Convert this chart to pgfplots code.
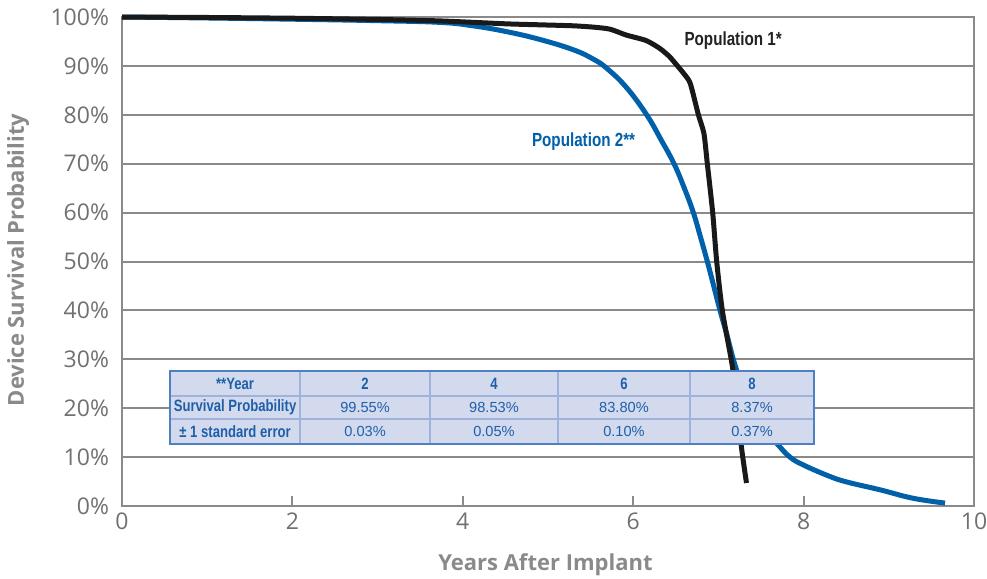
\documentclass[border=0pt]{standalone}
\usepackage{fontspec}
\setmainfont{Open Sans}
\newfontfamily\condfont[FakeStretch=0.8]{Liberation Sans}
\newfontfamily\arialfont{Liberation Sans}
\usepackage{pgfplots}
\pgfplotsset{compat=1.18}
\definecolor{popblue}{HTML}{0060A9}
\definecolor{gridgray}{HTML}{8A8A8A}
\definecolor{ticktext}{HTML}{707070}
\definecolor{labeltext}{HTML}{8A8A8A}
\definecolor{tabfill}{HTML}{D3DAEE}
\definecolor{tabedge}{HTML}{4F80C2}
\definecolor{tabinner}{HTML}{9EB2DC}
\definecolor{tabtext}{HTML}{1E5FA9}
\definecolor{poplabel}{HTML}{222222}

\pgfplotstableread{
x y
0 100
1 99.9
2 99.75
3 99.5
3.73 99.2
4.515 98.6
4.906 98.4
5.297 98.2
5.55 97.9
5.73 97.5
5.92 96.3
6.15 95.2
6.31 93.6
6.42 92
6.51 90.2
6.6 88.3
6.67 86.4
6.765 80
6.83 76.2
6.87 70
6.933 60
6.98 50
7.046 40
7.15 30
7.175 27
7.27 12.1
7.33 4.7
}\popone

\pgfplotstableread{
x y
0 100
1 99.8
2 99.55
3 99.25
3.73 98.9
4.12 98.2
4.515 97.0
4.906 95.4
5.297 93.3
5.53 91.4
5.69 89.5
5.92 85.6
6.158 80
6.33 74.8
6.479 70
6.6 65
6.706 60
6.79 55
6.87 50
6.945 45
7.019 40
7.1 35
7.175 30
7.25 26
7.35 21.5
7.5 16.5
7.69 12.7
7.84 10
8 8.37
8.3 6.1
8.51 4.9
8.9 3.3
9.28 1.6
9.66 0.6
}\poptwo

\begin{document}
\begin{tikzpicture}
\useasboundingbox (0,0) rectangle (493.5pt,289.5pt);
\begin{axis}[
  at={(61pt,36.5pt)}, anchor=south west,
  scale only axis, width=426pt, height=244.5pt,
  xmin=0, xmax=10, ymin=0, ymax=100,
  clip=false,
  axis line style={draw=gridgray, line width=1pt},
  xtick={0,2,4,6,8,10}, xticklabels={0,2,4,6,8,10},
  ytick={0,10,...,100},
  yticklabels={0\%,10\%,20\%,30\%,40\%,50\%,60\%,70\%,80\%,90\%,100\%},
  xtick pos=bottom, ytick pos=left,
  tick align=inside, major tick length=5pt,
  xtick style={draw=gridgray, line width=1pt},
  ytick style={draw=none},
  ymajorgrids, grid style={draw=gridgray, line width=1pt},
  ticklabel style={font=\fontsize{11.5}{13}\selectfont, text=ticktext},
  yticklabel style={xshift=-3pt},
  xticklabel style={yshift=0pt},
  xlabel={Years After Implant},
  ylabel={Device Survival Probability},
  label style={font=\bfseries\fontsize{11}{13}\selectfont, text=labeltext},
  xlabel style={at={(axis description cs:0.497,-0.121)}, anchor=center},
  ylabel style={at={(axis description cs:-0.122,0.503)}, anchor=center, rotate=0},
]
\addplot[popblue, line width=2.5pt, line join=round, smooth, tension=0.7] table[x=x,y=y]{\poptwo};
\addplot[black!90, line width=2.5pt, line join=round, smooth, tension=0.4] table[x=x,y=y]{\popone};

\node[anchor=west, font=\condfont\bfseries\fontsize{9.5}{10}\selectfont, text=poplabel] at (axis cs:6.52,95.1) {Population 1*};
\node[anchor=west, font=\condfont\bfseries\fontsize{9.5}{10}\selectfont, text=popblue] at (axis cs:4.73,74.6) {Population 2**};

% table
\fill[tabfill] (axis cs:0.563,12.7) rectangle (axis cs:8.122,27.6);
\draw[tabinner, line width=0.6pt] (axis cs:0.563,22.5) -- (axis cs:8.122,22.5);
\draw[tabinner, line width=0.6pt] (axis cs:0.563,17.8) -- (axis cs:8.122,17.8);
\draw[tabinner, line width=0.6pt] (axis cs:2.09,12.7) -- (axis cs:2.09,27.6);
\draw[tabinner, line width=0.6pt] (axis cs:3.615,12.7) -- (axis cs:3.615,27.6);
\draw[tabinner, line width=0.6pt] (axis cs:5.117,12.7) -- (axis cs:5.117,27.6);
\draw[tabinner, line width=0.6pt] (axis cs:6.667,12.7) -- (axis cs:6.667,27.6);
\draw[tabedge, line width=0.8pt] (axis cs:0.563,12.7) rectangle (axis cs:8.122,27.6);
\begin{scope}[every node/.style={text=tabtext, anchor=center}]
\node[font=\condfont\bfseries\fontsize{8.2}{9}\selectfont] at (axis cs:1.327,25.05) {**Year};
\node[font=\condfont\bfseries\fontsize{8.2}{9}\selectfont] at (axis cs:2.853,25.05) {2};
\node[font=\condfont\bfseries\fontsize{8.2}{9}\selectfont] at (axis cs:4.366,25.05) {4};
\node[font=\condfont\bfseries\fontsize{8.2}{9}\selectfont] at (axis cs:5.892,25.05) {6};
\node[font=\condfont\bfseries\fontsize{8.2}{9}\selectfont] at (axis cs:7.395,25.05) {8};
\node[font=\condfont\bfseries\fontsize{8.2}{9}\selectfont] at (axis cs:1.327,20.15) {Survival Probability};
\node[font=\arialfont\fontsize{7.3}{9}\selectfont] at (axis cs:2.853,20.15) {99.55\%};
\node[font=\arialfont\fontsize{7.3}{9}\selectfont] at (axis cs:4.366,20.15) {98.53\%};
\node[font=\arialfont\fontsize{7.3}{9}\selectfont] at (axis cs:5.892,20.15) {83.80\%};
\node[font=\arialfont\fontsize{7.3}{9}\selectfont] at (axis cs:7.395,20.15) {8.37\%};
\node[font=\condfont\bfseries\fontsize{8.2}{9}\selectfont] at (axis cs:1.327,15.25) {± 1 standard error};
\node[font=\arialfont\fontsize{7.3}{9}\selectfont] at (axis cs:2.853,15.25) {0.03\%};
\node[font=\arialfont\fontsize{7.3}{9}\selectfont] at (axis cs:4.366,15.25) {0.05\%};
\node[font=\arialfont\fontsize{7.3}{9}\selectfont] at (axis cs:5.892,15.25) {0.10\%};
\node[font=\arialfont\fontsize{7.3}{9}\selectfont] at (axis cs:7.395,15.25) {0.37\%};
\end{scope}
\end{axis}
\end{tikzpicture}
\end{document}
